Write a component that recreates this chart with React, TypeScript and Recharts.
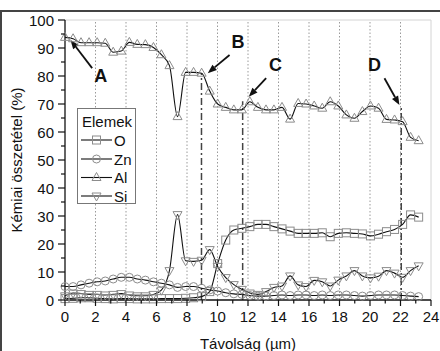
import React from "react";
import { LineChart, Line, XAxis, YAxis, ReferenceLine, ReferenceDot } from "recharts";

// measuring positions along the line scan (µm)
const DISTANCE = [
  0, 0.53, 1.05, 1.58, 2.11, 2.64, 3.16, 3.69, 4.22, 4.74, 5.27, 5.8, 6.32, 6.85, 7.38,
  7.91, 8.43, 8.96, 9.49, 10.01, 10.54, 11.07, 11.6, 12.12, 12.65, 13.18, 13.7, 14.23, 14.76, 15.29,
  15.81, 16.34, 16.87, 17.39, 17.92, 18.45, 18.98, 19.5, 20.03, 20.56, 21.08, 21.61, 22.14, 22.66, 23.19,
];

const O_VALUES = [
  0.5, 0.6, 0.8, 0.8, 0.6, 0.5, 0.4, 0.5, 0.5, 0.4, 0.4, 0.4, 0.5, 0.5, 0.5,
  0.6, 0.8, 1.2, 3.0, 13.0, 21.4, 25.0, 25.6, 26.2, 27.0, 27.0, 26.2, 25.4, 24.6, 23.8,
  23.8, 23.8, 24.0, 22.6, 23.8, 24.0, 23.8, 23.6, 22.9, 23.5, 24.4, 25.2, 27.0, 30.4, 29.6,
];

const ZN_VALUES = [
  4.8, 4.8, 5.4, 6.0, 6.5, 6.8, 7.5, 8.1, 8.1, 7.5, 7.1, 6.5, 6.0, 5.4, 4.5,
  4.8, 4.8, 4.2, 3.6, 3.2, 2.6, 2.2, 2.0, 1.6, 1.4, 1.4, 1.6, 1.8, 1.6, 1.8,
  1.8, 1.6, 1.8, 1.6, 1.8, 1.8, 1.6, 1.4, 1.6, 1.8, 1.8, 1.8, 1.6, 1.4, 1.2,
];

const AL_VALUES = [
  93.8, 93.3, 91.9, 91.9, 91.9, 91.7, 88.5, 88.9, 92.0, 91.3, 91.2, 90.2, 87.6, 83.7, 65.5,
  81.3, 81.3, 81.0, 74.6, 70.0, 68.8, 67.9, 67.9, 70.8, 68.8, 67.9, 67.9, 68.8, 64.6, 70.2,
  70.0, 69.3, 68.5, 70.8, 69.3, 66.1, 64.9, 67.3, 69.3, 68.5, 64.5, 64.3, 63.7, 58.1, 56.9,
];

const SI_VALUES = [
  1.5, 2.5, 2.3, 2.0, 2.0, 1.8, 2.0, 2.3, 1.8, 1.5, 1.5, 2.0, 3.5, 10.5, 30.5,
  14.0, 13.8, 14.2, 18.0, 12.0, 8.0, 5.5, 3.8, 2.5, 2.0, 3.0, 4.5, 5.0, 8.6, 5.4,
  4.8, 7.0, 6.5, 5.0, 7.1, 8.6, 10.5, 8.6, 7.9, 8.5, 10.5, 9.6, 8.1, 10.5, 12.2,
];

const X_TICKS = [0, 1, 2, 3, 4, 5, 6, 7, 8, 9, 10, 11, 12, 13, 14, 15, 16, 17, 18, 19, 20, 21, 22, 23, 24];
const Y_TICKS = [0, 5, 10, 15, 20, 25, 30, 35, 40, 45, 50, 55, 60, 65, 70, 75, 80, 85, 90, 95, 100];
const GRID_X = [2, 4, 6, 8, 10, 12, 14, 16, 18, 20, 22];

// dash-dot boundaries: position and how high they reach
const BOUNDARY_X = [8.95, 11.65, 22.05];
const BOUNDARY_TOP = [81, 71, 69];

// letter annotations: label position, arrow tail, arrow head (data units)
const MARK_LABELS = ["A", "B", "C", "D"];
const MARK_TEXT = [[2.35, 80], [11.35, 92.3], [13.8, 84], [20.3, 84]];
const MARK_FROM = [[1.78, 82.8], [10.79, 87.5], [13.19, 79.2], [20.95, 79.2]];
const MARK_TO = [[0.36, 92.9], [9.36, 81], [12.05, 72.6], [21.93, 69.6]];

const SERIES = [
  { key: "O", shape: "square", values: O_VALUES },
  { key: "Zn", shape: "circle", values: ZN_VALUES },
  { key: "Al", shape: "up", values: AL_VALUES },
  { key: "Si", shape: "down", values: SI_VALUES },
];

const FONT = "'Liberation Sans', Arial, sans-serif";
const INK = "#111";
const MARKER_GRAY = "#8c8c8c";

const data = DISTANCE.map((d, i) => {
  const row: Record<string, number> = { d };
  SERIES.forEach((s) => (row[s.key] = s.values[i]));
  return row;
});

function Marker({ shape, cx, cy }: { shape: string; cx: number; cy: number }) {
  const h = 4;
  const common = { fill: "none", stroke: MARKER_GRAY, strokeWidth: 1 };
  if (shape === "square") return <rect x={cx - h} y={cy - h} width={2 * h} height={2 * h} {...common} />;
  if (shape === "circle") return <circle cx={cx} cy={cy} r={h} {...common} />;
  if (shape === "up")
    return <polygon points={`${cx},${cy - h - 1} ${cx + h + 0.5},${cy + h - 1} ${cx - h - 0.5},${cy + h - 1}`} {...common} />;
  return <polygon points={`${cx},${cy + h + 1} ${cx + h + 0.5},${cy - h + 1} ${cx - h - 0.5},${cy - h + 1}`} {...common} />;
}

function XTick(props: any) {
  const { x, y, payload } = props;
  const v = payload.value;
  const major = v % 2 === 0;
  return (
    <g>
      <line x1={x} y1={y} x2={x} y2={y + (major ? 6 : 3.5)} stroke={INK} strokeWidth={1.2} />
      {major && (
        <text x={x} y={y + 22} textAnchor="middle" fontSize={15} fill={INK} fontFamily={FONT}>
          {v}
        </text>
      )}
    </g>
  );
}

function YTick(props: any) {
  const { x, y, payload } = props;
  const v = payload.value;
  const major = v % 10 === 0;
  return (
    <g>
      <line x1={x} y1={y} x2={x - (major ? 7 : 4)} y2={y} stroke={INK} strokeWidth={1.2} />
      {major && (
        <text x={x - 11} y={y + 5.5} textAnchor="end" fontSize={15} fill={INK} fontFamily={FONT}>
          {v}
        </text>
      )}
    </g>
  );
}

function Arrow(props: any) {
  const { x1, y1, x2, y2 } = props;
  const ang = Math.atan2(y2 - y1, x2 - x1);
  const len = 9;
  const w = 3.5;
  const bx = x2 - len * Math.cos(ang);
  const by = y2 - len * Math.sin(ang);
  const px = -Math.sin(ang) * w;
  const py = Math.cos(ang) * w;
  return (
    <g>
      <line x1={x1} y1={y1} x2={bx} y2={by} stroke={INK} strokeWidth={1.8} />
      <polygon points={`${x2},${y2} ${bx + px},${by + py} ${bx - px},${by - py}`} fill={INK} />
    </g>
  );
}

function Legend() {
  const rows = [140, 159, 177.5, 196];
  return (
    <svg
      width={60}
      height={97}
      style={{ position: "absolute", left: 77, top: 108 }}
      viewBox="77 108 60 97"
    >
      <rect x={77.5} y={108.5} width={58} height={95} fill="#fff" stroke="#777" strokeWidth={1} />
      <text x={82} y={127} fontSize={15} fontFamily={FONT} fill={INK}>
        Elemek
      </text>
      {SERIES.map((s, i) => (
        <g key={s.key}>
          <line x1={81} y1={rows[i]} x2={112} y2={rows[i]} stroke={INK} strokeWidth={1.1} />
          <Marker shape={s.shape} cx={96.5} cy={rows[i]} />
          <text x={114} y={rows[i] + 5.5} fontSize={15} fontFamily={FONT} fill={INK}>
            {s.key}
          </text>
        </g>
      ))}
    </svg>
  );
}

export default function App() {
  return (
    <div style={{ position: "absolute", left: 0, top: 0, width: 440, height: 351, background: "#fff", overflow: "hidden" }}>
      <div style={{ position: "absolute", left: 0, top: 10, width: 440, height: 341, borderTop: "2px solid #444", borderLeft: "2px solid #444", boxSizing: "border-box" }} />
      <LineChart width={440} height={351} data={data} margin={{ top: 20, right: 9, bottom: 0, left: 0 }}>
        <XAxis
          dataKey="d"
          type="number"
          domain={[0, 24]}
          ticks={X_TICKS}
          interval={0}
          tickSize={0}
          tickMargin={0}
          tickLine={false}
          tick={<XTick />}
          height={51}
          axisLine={{ stroke: INK, strokeWidth: 1.3 }}
          label={(p: any) => {
            const vb = p.viewBox || { x: 65, y: 300, width: 366, height: 51 };
            return (
              <text x={vb.x + vb.width / 2} y={349} textAnchor="middle" fontSize={15} fontFamily={FONT} fill={INK}>
                Távolság (µm)
              </text>
            );
          }}
        />
        <YAxis
          type="number"
          domain={[0, 100]}
          ticks={Y_TICKS}
          interval={0}
          width={65}
          tickSize={0}
          tickMargin={0}
          tickLine={false}
          tick={<YTick />}
          axisLine={{ stroke: INK, strokeWidth: 1.3 }}
          label={(p: any) => {
            const vb = p.viewBox || { x: 0, y: 20, width: 65, height: 280 };
            const cx = 21.5;
            const cy = vb.y + vb.height / 2;
            return (
              <text x={cx} y={cy} transform={`rotate(-90 ${cx} ${cy})`} textAnchor="middle" fontSize={15} fontFamily={FONT} fill={INK}>
                Kémiai összetétel (%)
              </text>
            );
          }}
        />
        <ReferenceLine y={100} stroke="#d4d4d4" />
        <ReferenceLine x={24} stroke="#d4d4d4" />
        {GRID_X.map((g) => (
          <ReferenceLine key={`g${g}`} x={g} stroke="#9a9a9a" strokeDasharray="1.5 2" />
        ))}
        {BOUNDARY_X.map((bx, i) => (
          <ReferenceLine
            key={`b${i}`}
            segment={[{ x: bx, y: 0 }, { x: bx, y: BOUNDARY_TOP[i] }]}
            stroke="#444"
            strokeWidth={1.5}
            strokeDasharray="7 3 2 3"
          />
        ))}
        {SERIES.map((s) => (
          <Line
            key={s.key}
            dataKey={s.key}
            type="monotone"
            stroke={INK}
            strokeWidth={1.1}
            isAnimationActive={false}
            dot={(p: any) => <Marker key={`${s.key}${p.index}`} shape={s.shape} cx={p.cx} cy={p.cy} />}
          />
        ))}
        {MARK_LABELS.map((m, i) => (
          <ReferenceLine
            key={`a${m}`}
            segment={[{ x: MARK_FROM[i][0], y: MARK_FROM[i][1] }, { x: MARK_TO[i][0], y: MARK_TO[i][1] }]}
            ifOverflow="visible"
            shape={Arrow}
          />
        ))}
        {MARK_LABELS.map((m, i) => (
          <ReferenceDot
            key={`t${m}`}
            x={MARK_TEXT[i][0]}
            y={MARK_TEXT[i][1]}
            r={0}
            stroke="none"
            fill="none"
            label={{ value: m, position: "center", fontSize: 18, fontWeight: 700, fill: INK, fontFamily: FONT }}
          />
        ))}
      </LineChart>
      <Legend />
    </div>
  );
}
